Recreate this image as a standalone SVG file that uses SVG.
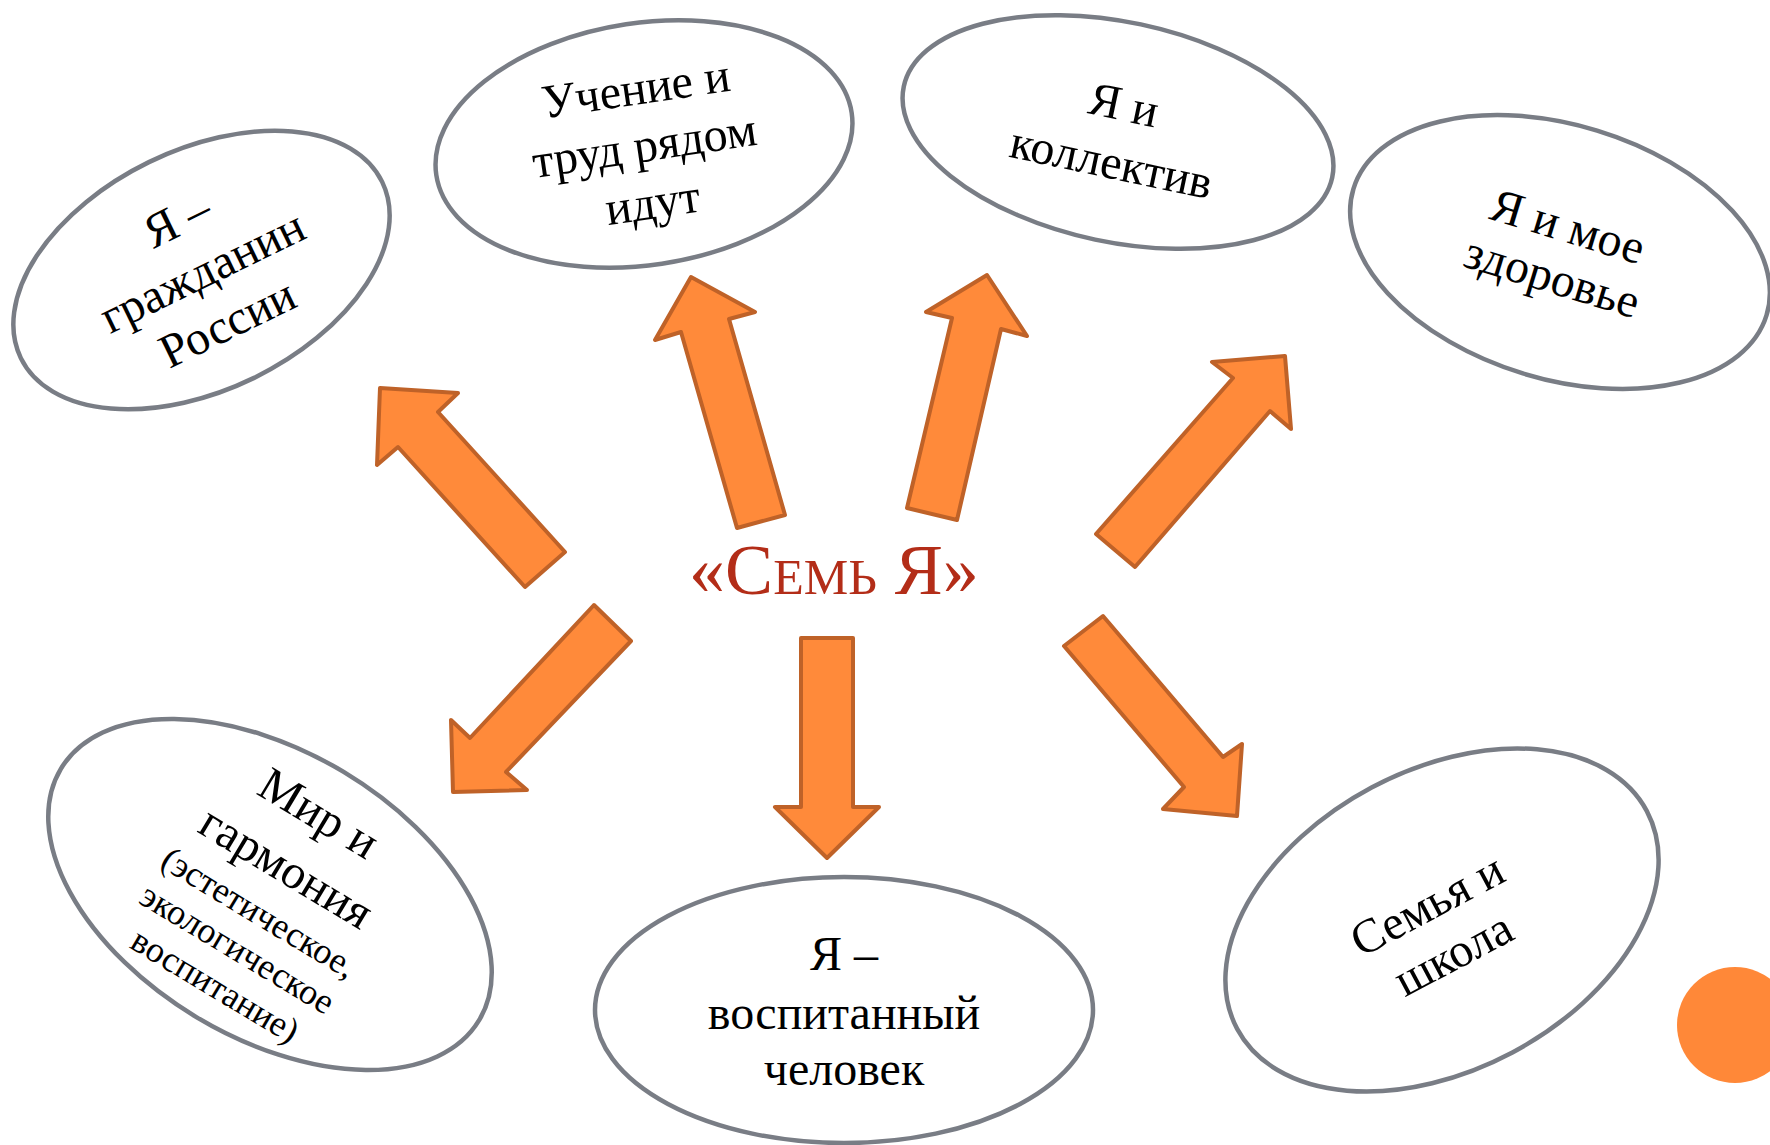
<svg xmlns="http://www.w3.org/2000/svg" width="1770" height="1145" viewBox="0 0 1770 1145">
<style>
.oval{fill:#ffffff;stroke:#797d85;stroke-width:4.5}
.t{font-family:"Liberation Serif","Times New Roman",serif;font-size:48px;fill:#000;text-anchor:middle}
.s{font-size:36px}
.arr{fill:#ff8a3a;stroke:#bf6228;stroke-width:4;stroke-linejoin:round}
.title{font-family:"Liberation Serif","Times New Roman",serif;font-size:72px;fill:#b32d18;text-anchor:middle;font-variant:small-caps}
</style>
<rect width="1770" height="1145" fill="#ffffff"/>
<g id="connectors">
<polygon class="arr" points="380,388 458,393 438,412 565,552 525,587 398,447 377,465"/>
<polygon class="arr" points="691,277 755,312 729,319 785,515 737,528 681,332 655,340"/>
<polygon class="arr" points="987,275 1027,336 1001,329 957,520 907,508 952,318 926,312"/>
<polygon class="arr" points="1285,356 1291,429 1270,411 1135,567 1096,534 1233,378 1212,362"/>
<polygon class="arr" points="453,792 527,790 506,772 631,641 594,605 470,738 451,720"/>
<polygon class="arr" points="801,638 853,638 853,807 879,807 827,858 775,807 801,807"/>
<polygon class="arr" points="1103,616 1223,757 1242,744 1237,816 1163,809 1184,787 1064,646"/>
</g>
<g id="center">
<text class="title" x="834" y="594">«Семь Я»</text>
</g>
<g id="n1" transform="translate(201.5,270) rotate(-26)">
<ellipse class="oval" cx="0" cy="0" rx="201" ry="120"/>
<text class="t" x="0" y="-40">Я –</text>
<text class="t" x="0" y="17.5">гражданин</text>
<text class="t" x="0" y="75">России</text>
</g>
<g id="n2" transform="translate(644,144) rotate(-8.5)">
<ellipse class="oval" cx="0" cy="0" rx="210" ry="121"/>
<text class="t" x="0" y="-40">Учение и</text>
<text class="t" x="0" y="17.5">труд рядом</text>
<text class="t" x="0" y="75">идут</text>
</g>
<g id="n3" transform="translate(1118,132) rotate(12)">
<ellipse class="oval" cx="0" cy="0" rx="219" ry="110"/>
<text class="t" x="0" y="-12">Я и</text>
<text class="t" x="0" y="47">коллектив</text>
</g>
<g id="n4" transform="translate(1560,252) rotate(17)">
<ellipse class="oval" cx="0" cy="0" rx="216" ry="127"/>
<text class="t" x="0" y="-11">Я и мое</text>
<text class="t" x="0" y="42">здоровье</text>
</g>
<g id="n5" transform="translate(270,894.5) rotate(31)">
<ellipse class="oval" cx="0" cy="0" rx="244" ry="143"/>
<text class="t" x="0" y="-79">Мир и</text>
<text class="t" x="0" y="-16">гармония</text>
<text class="t s" x="0" y="33">(эстетическое,</text>
<text class="t s" x="0" y="75">экологическое</text>
<text class="t s" x="0" y="118">воспитание)</text>
</g>
<g id="n6" transform="translate(844,1010)">
<ellipse class="oval" cx="0" cy="0" rx="249" ry="133"/>
<text class="t" x="0" y="-40">Я –</text>
<text class="t" x="0" y="19">воспитанный</text>
<text class="t" x="0" y="75">человек</text>
</g>
<g id="n7" transform="translate(1442,920) rotate(-28)">
<ellipse class="oval" cx="0" cy="0" rx="232" ry="150"/>
<text class="t" x="-6" y="-4.5">Семья и</text>
<text class="t" x="-6" y="51">школа</text>
</g>
<circle cx="1735" cy="1025" r="58" fill="#ff8838"/>
</svg>
